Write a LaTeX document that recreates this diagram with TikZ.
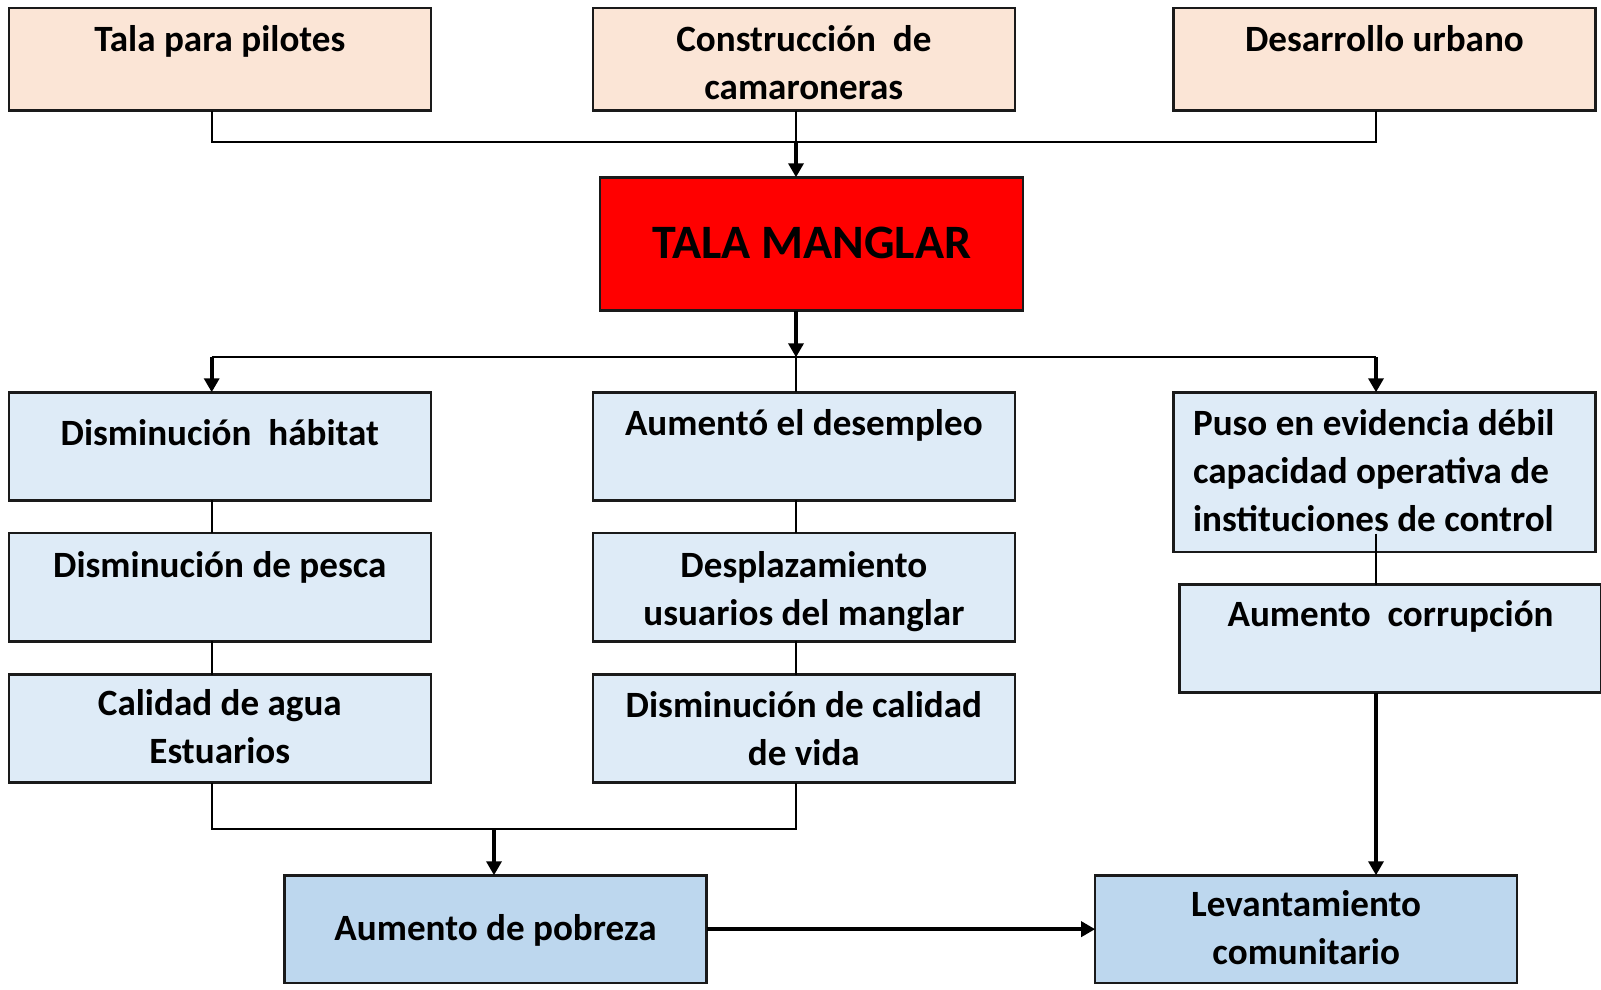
\documentclass[tikz,border=0pt]{standalone}
\usepackage{fontspec}
\newfontfamily\carl{Carlito}
\usetikzlibrary{arrows.meta}
\definecolor{peach}{HTML}{FBE5D6}
\definecolor{lblue}{HTML}{DEEBF7}
\definecolor{mblue}{HTML}{BDD7EE}
\definecolor{bred}{HTML}{FF0000}
\definecolor{edgec}{HTML}{1A1A1A}
\newcommand\ctext[1]{\parbox[t]{422pt}{\centering #1}}
\tikzset{
  box/.style={draw=edgec, line width=2.6pt, rectangle, inner sep=0pt, outer sep=0pt,
    anchor=north, minimum width=422pt, text=black,
    font=\carl\bfseries\fontsize{37.1pt}{48pt}\selectfont},
  pbox/.style={box, fill=peach},
  lbox/.style={box, fill=lblue},
  mbox/.style={box, fill=mblue},
  conn/.style={draw=black, line width=2pt},
  arr/.style={draw=black, line width=4pt, -{Triangle[width=15pt,length=14pt]}},
}
\begin{document}
\begin{tikzpicture}[x=1pt,y=-1pt]
\useasboundingbox (0,0) rectangle (1601,990);

% top row
\node[pbox, text height=43.7pt, text depth=58.8pt] (tala) at (219.8,8) {\ctext{Tala para pilotes}};
\node[pbox, text height=43.7pt, text depth=58.8pt] (constr) at (803.85,8) {\ctext{Construcción~ de\\camaroneras}};
\node[pbox, text height=43.7pt, text depth=58.8pt] (desarr) at (1384.5,8) {\ctext{Desarrollo urbano}};

% central box
\node[box, fill=bred, minimum width=423pt, text height=81.05pt, text depth=52.45pt,
  font=\carl\bfseries\fontsize{48pt}{56pt}\selectfont] (red) at (811.65,177.25) {\ctext{TALA MANGLAR}};

% left column
\node[lbox, text height=53.45pt, text depth=54.55pt] (hab) at (219.8,392.25) {\ctext{Disminución~ hábitat}};
\node[lbox, text height=44.35pt, text depth=64.15pt] (pesca) at (219.8,532.95) {\ctext{Disminución de pesca}};
\node[lbox, text height=40.45pt, text depth=67.75pt] (agua) at (219.8,674.55) {\ctext{Calidad de agua\\Estuarios}};

% middle column
\node[lbox, text height=42.75pt, text depth=65.25pt] (desemp) at (803.85,392.25) {\ctext{Aumentó el desempleo}};
\node[lbox, text height=44.35pt, text depth=64.15pt] (despl) at (803.85,532.95) {\ctext{Desplazamiento\\usuarios del manglar}};
\node[lbox, text height=42.75pt, text depth=65.45pt] (calvida) at (803.85,674.55) {\ctext{Disminución de calidad\\de vida}};

% right column
\node[lbox, text height=42.75pt, text depth=117pt] (puso) at (1384.5,392.25)
  {\parbox[t]{422pt}{\raggedright\leftskip=19.5pt Puso en evidencia débil\\capacidad operativa de\\instituciones de control}};
\node[lbox, text height=42.15pt, text depth=66.05pt] (corr) at (1390.55,584.55) {\ctext{Aumento~ corrupción}};

% bottom row
\node[mbox, text height=64.75pt, text depth=43.05pt] (pobreza) at (495.5,875.25) {\ctext{Aumento de pobreza}};
\node[mbox, text height=41.45pt, text depth=66.35pt] (levant) at (1306.15,875.25) {\ctext{Levantamiento\\comunitario}};

% connector columns and junctions
\coordinate (cL) at (211.7,0);
\coordinate (cM) at (796,0);
\coordinate (cR) at (1376,0);
\coordinate (jTop) at (796,142.3);
\coordinate (jMid) at (796,357.3);
\coordinate (jBot) at (494,829);

% causes -> tala manglar
\draw[conn] (tala.south -| cL) |- (jTop);
\draw[conn] (constr.south -| cM) -- (jTop);
\draw[conn] (jTop) -| (desarr.south -| cR);
\draw[arr] (jTop) -- (red.north -| cM);

% tala manglar -> effects
\draw[arr] (red.south -| cM) -- (jMid);
\draw[conn] (jMid -| cL) -- (jMid -| cR);
\draw[conn] (jMid) -- (desemp.north -| cM);
\draw[arr] (jMid -| cL) -- (hab.north -| cL);
\draw[arr] (jMid -| cR) -- (puso.north -| cR);

% chains
\draw[conn] (hab.south -| cL) -- (pesca.north -| cL);
\draw[conn] (pesca.south -| cL) -- (agua.north -| cL);
\draw[conn] (desemp.south -| cM) -- (despl.north -| cM);
\draw[conn] (despl.south -| cM) -- (calvida.north -| cM);
\draw[conn] (puso.south -| cR) ++(0,-18.5) -- (corr.north -| cR);

% to bottom
\draw[conn] (agua.south -| cL) |- (jBot) -| (calvida.south -| cM);
\draw[arr] (jBot) -- (pobreza.north -| jBot);
\draw[arr] (corr.south -| cR) -- (levant.north -| cR);
\draw[arr] (pobreza.east) -- (pobreza.east -| levant.west);
\end{tikzpicture}
\end{document}
